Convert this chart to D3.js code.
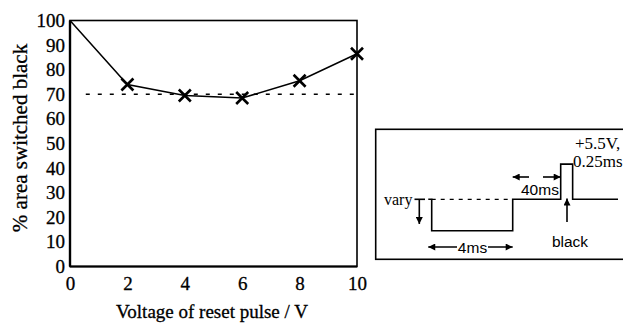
<!DOCTYPE html>
<html>
<head>
<meta charset="utf-8">
<script src="https://cdn.jsdelivr.net/npm/d3@7"></script>
<style>
  body { margin: 0; background: #fff; }
  svg { display: block; }
</style>
</head>
<body>
<div id="chart"></div>
<script>
// main chart data
const voltage = [0, 2, 4, 6, 8, 10];
const percentBlack = [100, 74, 69.5, 68.5, 75.5, 86.5];
const xTicks = [0, 2, 4, 6, 8, 10];
const yTicks = [0, 10, 20, 30, 40, 50, 60, 70, 80, 90, 100];
const threshold = 70;

// inset waveform (schematic units: ms along, relative level up)
const waveT = [-0.17, 0, 0, 4, 4, 6.37, 6.37, 6.96, 6.96, 9.2];
const waveLevel = [0, 0, -1, -1, 0, 0, 1.12, 1.12, 0, 0];

const W = 623, H = 324;
const margin = {top: 20.5, left: 70};
const width = 287;
const height = 246;
const serif = "'Liberation Serif', 'Times New Roman', serif";
const sans = "'Liberation Sans', Arial, sans-serif";

const svg = d3.select("#chart").append("svg")
    .attr("width", W)
    .attr("height", H);

const g = svg.append("g")
    .attr("transform", "translate(" + margin.left + "," + margin.top + ")");

const x = d3.scaleLinear().domain([0, 10]).range([0, width]);
const y = d3.scaleLinear().domain([0, 100]).range([height, 0]);

// axes
function styleAxis(a) {
    a.select(".domain").remove();
    a.attr("font-family", serif).attr("font-size", 19);
    a.selectAll("text").attr("fill", "#000").attr("stroke", "#000").attr("stroke-width", 0.3);
}
g.append("g")
    .attr("transform", "translate(0," + height + ")")
    .call(d3.axisBottom(x).tickValues(xTicks).tickSize(0).tickPadding(10))
    .call(styleAxis);
g.append("g")
    .call(d3.axisLeft(y).tickValues(yTicks).tickSize(0).tickPadding(5))
    .call(styleAxis);

// frame: thick left & bottom, thin top & right
g.append("rect")
    .attr("width", width).attr("height", height)
    .attr("fill", "none").attr("stroke", "#000").attr("stroke-width", 1.6);
g.append("line")
    .attr("x1", 0).attr("x2", 0).attr("y1", 0).attr("y2", height)
    .attr("stroke", "#000").attr("stroke-width", 2.4);
g.append("line")
    .attr("x1", 0).attr("x2", width).attr("y1", height).attr("y2", height)
    .attr("stroke", "#000").attr("stroke-width", 2);

// dashed 70% line
g.append("line")
    .attr("x1", x(0.55)).attr("x2", width)
    .attr("y1", y(threshold)).attr("y2", y(threshold))
    .attr("stroke", "#000").attr("stroke-width", 1.6)
    .attr("stroke-dasharray", "4,8");

// data line
const pts = voltage.map((v, i) => [v, percentBlack[i]]);
g.append("path")
    .datum(pts)
    .attr("fill", "none")
    .attr("stroke", "#000")
    .attr("stroke-width", 1.5)
    .attr("d", d3.line().x(d => x(d[0])).y(d => y(d[1])));

// crosses
const s = 6;
g.selectAll(".cross")
    .data(pts.slice(1))
    .enter().append("path")
    .attr("class", "cross")
    .attr("fill", "none")
    .attr("stroke", "#000")
    .attr("stroke-width", 2.6)
    .attr("d", d => {
        const cx = x(d[0]), cy = y(d[1]);
        return "M" + (cx - s) + "," + (cy - s) + "L" + (cx + s) + "," + (cy + s) +
               "M" + (cx - s) + "," + (cy + s) + "L" + (cx + s) + "," + (cy - s);
    });

// axis titles
svg.append("text")
    .attr("x", 212).attr("y", 318)
    .attr("text-anchor", "middle")
    .attr("font-family", serif)
    .attr("font-size", 19)
    .attr("stroke", "#000").attr("stroke-width", 0.3)
    .text("Voltage of reset pulse / V");
svg.append("text")
    .attr("transform", "translate(27,138) rotate(-90)")
    .attr("text-anchor", "middle")
    .attr("font-family", serif)
    .attr("font-size", 21)
    .attr("stroke", "#000").attr("stroke-width", 0.3)
    .text("% area switched black");

// inset: reset / black pulse waveform
const inset = svg.append("g");
const tx = d3.scaleLinear().domain([0, 4]).range([431.7, 512.7]);
const ly = d3.scaleLinear().domain([0, -1]).range([199.3, 230.7]);

inset.append("rect")
    .attr("x", 375.7).attr("y", 129.3)
    .attr("width", 260).attr("height", 130)
    .attr("fill", "none").attr("stroke", "#000").attr("stroke-width", 1.6);

inset.append("path")
    .datum(waveT.map((t, i) => [t, waveLevel[i]]))
    .attr("fill", "none").attr("stroke", "#000").attr("stroke-width", 1.6)
    .attr("d", d3.line().x(d => tx(d[0])).y(d => ly(d[1])));

inset.append("line")
    .attr("x1", tx(0)).attr("x2", tx(4))
    .attr("y1", ly(0)).attr("y2", ly(0))
    .attr("stroke", "#000").attr("stroke-width", 1.3)
    .attr("stroke-dasharray", "4,5");

const defs = svg.append("defs");
defs.append("marker")
    .attr("id", "ah")
    .attr("viewBox", "0 0 10 10")
    .attr("refX", 10).attr("refY", 5)
    .attr("markerWidth", 9).attr("markerHeight", 7)
    .attr("markerUnits", "userSpaceOnUse")
    .attr("orient", "auto-start-reverse")
    .append("path").attr("d", "M0,0L10,5L0,10Z").attr("fill", "#000");

function arrow(x1, y1, x2, y2, both) {
    const l = inset.append("line")
        .attr("x1", x1).attr("y1", y1).attr("x2", x2).attr("y2", y2)
        .attr("stroke", "#000").attr("stroke-width", 1.6)
        .attr("marker-end", "url(#ah)");
    if (both) l.attr("marker-start", "url(#ah)");
}

// vary arrow
arrow(419.3, ly(0), 419.3, 224);
inset.append("line")
    .attr("x1", 414.5).attr("x2", 425).attr("y1", ly(0)).attr("y2", ly(0))
    .attr("stroke", "#000").attr("stroke-width", 1.6);
// 4ms
arrow(tx(-0.17), 247, tx(4), 247, true);
// 40ms inward arrows
arrow(529, 177, tx(4), 177);
arrow(543, 177, tx(6.37), 177);
// black arrow
arrow(567, 222, 567, 198.5);

function label(t, xx, yy, fam, size, anchor) {
    inset.append("text")
        .attr("x", xx).attr("y", yy)
        .attr("text-anchor", anchor || "start")
        .attr("font-family", fam)
        .attr("font-size", size)
        .text(t);
}
inset.append("rect").attr("x", 457).attr("y", 240).attr("width", 31).attr("height", 13).attr("fill", "#fff");
label("4ms", 472.5, 252.5, sans, 15.5, "middle");
label("40ms", 521, 195, sans, 15.5);
label("black", 570, 246.5, sans, 15.5, "middle");
label("vary", 384, 205, serif, 16);
label("+5.5V,", 575, 148.5, serif, 17);
label("0.25ms", 573, 167, serif, 17);
</script>
</body>
</html>
